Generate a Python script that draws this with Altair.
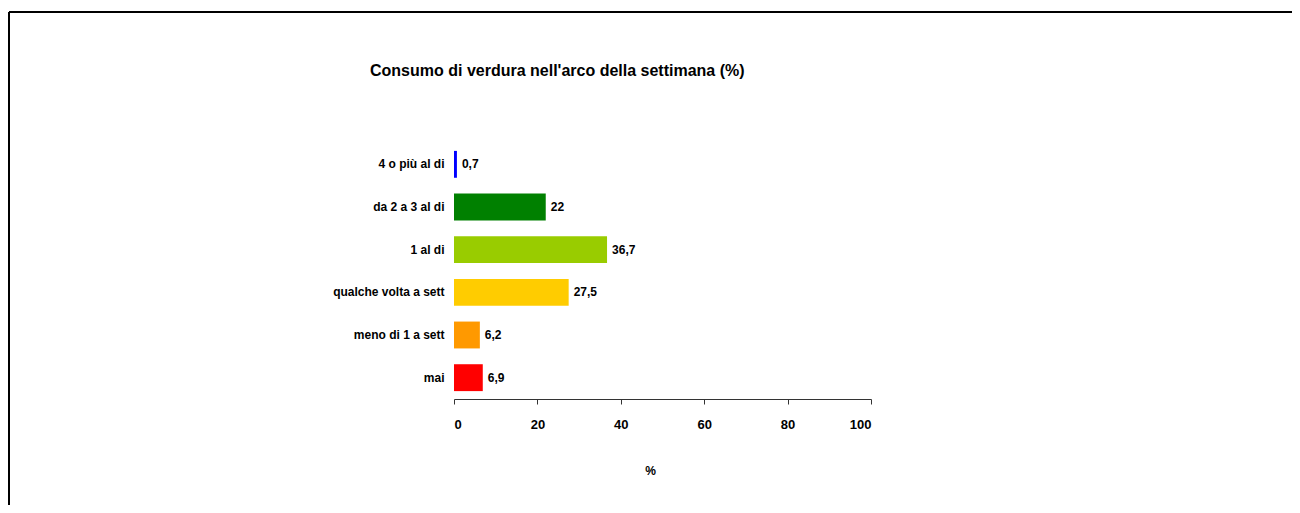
import altair as alt
import pandas as pd

categories = ["4 o più al di", "da 2 a 3 al di", "1 al di", "qualche volta a sett", "meno di 1 a sett", "mai"]
values = [0.7, 22, 36.7, 27.5, 6.2, 6.9]
colors = ["#0000FF", "#008000", "#99CC00", "#FFCC00", "#FF9900", "#FF0000"]
x_ticks = [0, 20, 40, 60, 80, 100]
title_text = "Consumo di verdura nell'arco della settimana  (%)"

df = pd.DataFrame({
    "cat": categories,
    "val": values,
    "label": [f"{v:g}".replace(".", ",") for v in values],
})

FONT = "Liberation Sans"
W, H = 417, 256
PAD_L, PAD_T = 446, 135
PAD_R = 1284 - PAD_L - W
PAD_B = 497 - PAD_T - H

y_enc = alt.Y("cat:N", sort=categories,
              scale=alt.Scale(paddingInner=0.37, paddingOuter=0.185),
              axis=alt.Axis(title=None, domain=False, ticks=False, labelPadding=10,
                            labelFont=FONT, labelFontWeight="bold", labelFontSize=12,
                            labelColor="#000000"))
x_enc = alt.X("val:Q", scale=alt.Scale(domain=[0, 100], nice=False),
              axis=alt.Axis(title="%", values=x_ticks, grid=False, domainColor="#333333",
                            tickColor="#333333", tickSize=5, labelPadding=14,
                            labelFont=FONT, labelFontWeight="bold", labelFontSize=13,
                            labelColor="#000000", titleFont=FONT, titleFontWeight="bold",
                            titleFontSize=12, titleColor="#000000", titleX=196, titleY=71,
                            titleBaseline="middle", titleAlign="center"))

base = alt.Chart(df)
bars = base.mark_bar().encode(
    x=x_enc, y=y_enc,
    color=alt.Color("cat:N", scale=alt.Scale(domain=categories, range=colors), legend=None),
)
labels = base.mark_text(align="left", baseline="middle", dx=5, font=FONT, fontWeight="bold",
                        fontSize=12, color="#000000").encode(
    x="val:Q", y=alt.Y("cat:N", sort=categories), text="label:N")

title = alt.Chart(pd.DataFrame({"t": [title_text]})).mark_text(
    align="left", baseline="middle", font=FONT, fontWeight="bold", fontSize=16, color="#000000"
).encode(x=alt.value(-84), y=alt.value(-72), text="t:N")

frame_top = alt.Chart(pd.DataFrame({"a": [0]})).mark_rule(color="#000000", strokeWidth=2).encode(
    x=alt.value(-445), x2=alt.value(W + PAD_R + 10), y=alt.value(-131))
frame_left = alt.Chart(pd.DataFrame({"a": [0]})).mark_rule(color="#000000", strokeWidth=2).encode(
    x=alt.value(-445), y=alt.value(-131), y2=alt.value(H + PAD_B + 10))

chart = alt.layer(bars, labels, title, frame_top, frame_left).properties(
    width=W, height=H,
    autosize=alt.AutoSizeParams(type="none"),
    padding={"left": PAD_L, "top": PAD_T, "right": PAD_R, "bottom": PAD_B},
    background="white",
).configure_view(stroke=None)

chart.save("out.html", embed_options={"renderer": "svg", "actions": False})
